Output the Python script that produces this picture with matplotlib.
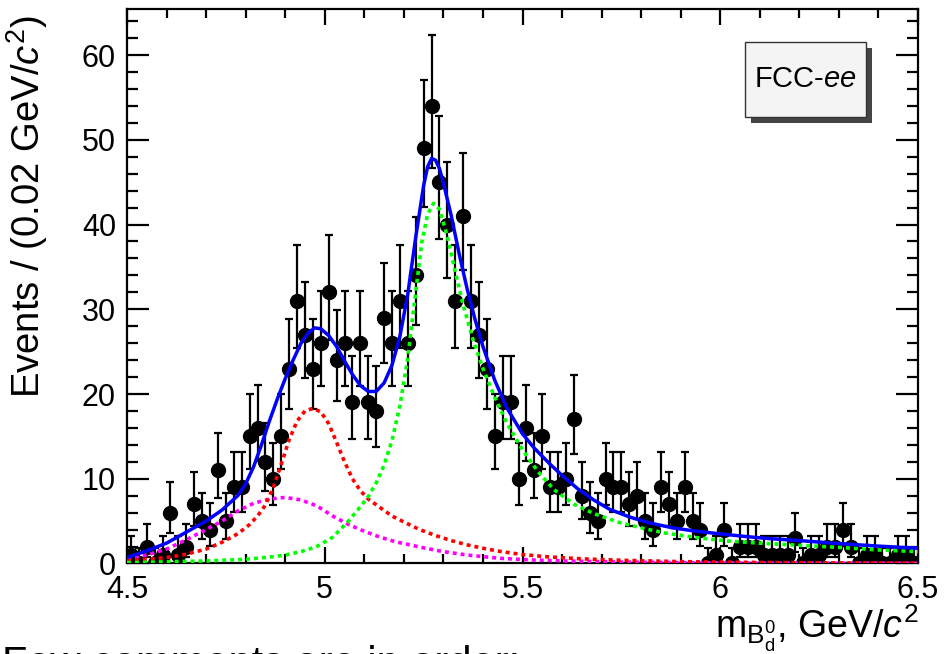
import numpy as np
import matplotlib
matplotlib.use("Agg")
import matplotlib.pyplot as plt
from matplotlib.patches import Rectangle
from matplotlib.ticker import MultipleLocator, FuncFormatter

# histogram: 100 bins of 0.02 GeV/c^2 between 4.5 and 6.5
bin_width = 0.02
bin_centers = np.round(np.arange(4.5 + bin_width / 2, 6.5, bin_width), 3)
counts = [1, 0, 2, 0, 1, 6, 1, 2, 7, 5,
          4, 11, 5, 9, 9, 15, 16, 12, 10, 15,
          23, 31, 27, 23, 26, 32, 24, 26, 19, 26,
          19, 18, 29, 26, 31, 26, 34, 49, 54, 45,
          40, 31, 41, 31, 27, 23, 15, 19, 19, 10,
          16, 11, 15, 9, 9, 10, 17, 8, 6, 5,
          10, 9, 9, 7, 8, 5, 4, 9, 7, 5,
          9, 5, 4, 0, 1, 4, 0, 2, 2, 2,
          1, 1, 1, 1, 3, 0, 1, 1, 2, 2,
          4, 2, 0, 1, 1, 0, 0, 1, 1, 0]

# fit components
total_x = [4.50, 4.55, 4.60, 4.65, 4.70, 4.74, 4.78, 4.80, 4.82, 4.84,
           4.86, 4.88, 4.90, 4.92, 4.94, 4.96, 4.975, 4.99, 5.01, 5.03,
           5.05, 5.07, 5.09, 5.11, 5.13, 5.15, 5.17, 5.19, 5.21, 5.23,
           5.25, 5.26, 5.27, 5.28, 5.29, 5.30, 5.32, 5.34, 5.36, 5.38,
           5.40, 5.43, 5.46, 5.50, 5.53, 5.57, 5.60, 5.64, 5.68, 5.72,
           5.77, 5.82, 5.88, 5.94, 6.00, 6.06, 6.12, 6.20, 6.30, 6.40,
           6.50]
total_y = [0.7, 1.5, 2.4, 3.7, 5.0, 6.3, 8.0, 9.4, 11.4, 14.0,
           16.8, 19.4, 21.8, 24.0, 26.0, 27.3, 27.8, 27.7, 26.9, 25.6,
           23.9, 22.3, 21.0, 20.3, 20.3, 21.3, 23.4, 26.8, 31.8, 38.5,
           44.6, 46.8, 47.8, 47.6, 46.6, 44.9, 41.0, 36.5, 32.4, 28.8,
           25.6, 21.6, 18.4, 15.3, 13.6, 11.7, 10.4, 8.8, 7.5, 6.4,
           5.5, 4.8, 4.2, 3.8, 3.5, 3.2, 2.95, 2.7, 2.35, 2.05,
           1.8]

signal_x = [4.50, 4.60, 4.70, 4.80, 4.86, 4.90, 4.94, 4.98, 5.02, 5.06,
            5.09, 5.11, 5.13, 5.15, 5.17, 5.19, 5.21, 5.23, 5.245, 5.26,
            5.275, 5.29, 5.31, 5.33, 5.35, 5.375, 5.40, 5.43, 5.46, 5.50,
            5.54, 5.58, 5.63, 5.68, 5.74, 5.80, 5.86, 5.94, 6.02, 6.10,
            6.20, 6.30, 6.40, 6.50]
signal_y = [0.1, 0.2, 0.3, 0.5, 0.75, 1.0, 1.4, 2.0, 3.1, 5.0,
            6.7, 7.9, 9.5, 11.6, 14.5, 18.6, 24.3, 32.0, 37.8, 41.2,
            42.5, 41.8, 38.6, 34.4, 30.5, 26.4, 23.0, 19.6, 16.6, 13.4,
            10.8, 8.7, 7.0, 5.9, 4.9, 4.2, 3.6, 3.05, 2.65, 2.4,
            2.15, 1.9, 1.6, 1.4]

peak2_x = [4.50, 4.55, 4.60, 4.65, 4.70, 4.74, 4.78, 4.81, 4.83, 4.85,
           4.87, 4.89, 4.91, 4.93, 4.95, 4.97, 4.99, 5.01, 5.03, 5.05,
           5.07, 5.09, 5.11, 5.14, 5.17, 5.20, 5.24, 5.28, 5.32, 5.36,
           5.40, 5.44, 5.50, 5.56, 5.65, 5.75, 5.90, 6.10, 6.30, 6.50]
peak2_y = [0.3, 0.5, 0.7, 1.1, 1.7, 2.5, 3.5, 4.6, 5.6, 6.9,
           9.0, 11.7, 14.6, 16.8, 18.0, 18.3, 17.9, 16.5, 14.3, 12.0,
           10.0, 8.6, 7.6, 6.6, 5.6, 4.9, 4.0, 3.3, 2.7, 2.2,
           1.8, 1.45, 1.05, 0.8, 0.55, 0.38, 0.22, 0.12, 0.07, 0.05]

bkg_x = [4.50, 4.55, 4.60, 4.65, 4.70, 4.74, 4.78, 4.82, 4.86, 4.90,
         4.94, 4.98, 5.02, 5.06, 5.10, 5.14, 5.18, 5.22, 5.26, 5.30,
         5.36, 5.44, 5.52, 5.62, 5.75, 5.90, 6.10, 6.50]
bkg_y = [0.6, 1.0, 1.7, 2.8, 4.0, 5.0, 6.2, 7.1, 7.6, 7.8,
         7.5, 6.8, 5.6, 4.6, 3.8, 3.1, 2.55, 2.15, 1.75, 1.4,
         1.0, 0.62, 0.42, 0.28, 0.17, 0.1, 0.05, 0.02]


def poisson_errors(n):
    # Gehrels approximation of the 68% Poisson interval
    n = np.asarray(n, dtype=float)
    up = (n + 1) * (1 - 1 / (9 * (n + 1)) + 1 / (3 * np.sqrt(n + 1))) ** 3
    lo = np.zeros_like(n)
    pos = n > 0
    lo[pos] = n[pos] * (1 - 1 / (9 * n[pos]) - 1 / (3 * np.sqrt(n[pos]))) ** 3
    return n - lo, up - n


def main():
    plt.rcParams["font.family"] = "Liberation Sans"
    plt.rcParams["mathtext.fontset"] = "custom"
    plt.rcParams["mathtext.rm"] = "Liberation Sans"
    plt.rcParams["mathtext.it"] = "Liberation Sans:italic"
    plt.rcParams["mathtext.bf"] = "Liberation Sans:bold"

    fig = plt.figure(figsize=(9.47, 6.54), dpi=100)
    ax = fig.add_axes([0.1341, 0.1384, 0.8353, 0.8474])

    err_lo, err_hi = poisson_errors(counts)
    ax.errorbar(bin_centers, counts, yerr=[err_lo, err_hi], fmt="o",
                color="black", ms=10, elinewidth=1.6, capsize=3,
                capthick=1.6, zorder=3)

    dash = (0, (1.1, 1.1))
    ax.plot(bkg_x, bkg_y, color="#ff00ff", lw=2.6, ls=dash, zorder=4)
    ax.plot(peak2_x, peak2_y, color="#ff0000", lw=2.6, ls=dash, zorder=4)
    ax.plot(signal_x, signal_y, color="#00ff00", lw=2.6, ls=dash, zorder=4)
    ax.plot(total_x, total_y, color="#0000ff", lw=2.5, zorder=5)

    ax.set_xlim(4.5, 6.5)
    ax.set_ylim(0, 65.4)

    ax.xaxis.set_major_locator(MultipleLocator(0.5))
    ax.xaxis.set_minor_locator(MultipleLocator(0.1))
    ax.yaxis.set_major_locator(MultipleLocator(10))
    ax.yaxis.set_minor_locator(MultipleLocator(2))
    ax.xaxis.set_major_formatter(FuncFormatter(lambda v, p: "%g" % v))

    ax.tick_params(which="both", direction="in", top=True, right=True,
                   width=1.6, labelsize=22)
    ax.tick_params(axis="x", which="major", length=11.5, pad=8)
    ax.tick_params(axis="x", which="minor", length=6.5)
    ax.tick_params(axis="y", which="major", length=16, pad=8)
    ax.tick_params(axis="y", which="minor", length=8)
    for s in ax.spines.values():
        s.set_linewidth(1.6)

    ax.set_ylabel(r"Events / (0.02 GeV/$c^{2}$)", fontsize=27.5, loc="top")
    ax.yaxis.set_label_coords(-0.097, 0.99)
    ax.set_xlabel(r"$\mathrm{m}_{\mathrm{B}^{0}_{\mathrm{d}}}$, GeV/$c^{2}$",
                  fontsize=27, loc="right")
    ax.xaxis.set_label_coords(1.0, -0.071)
    ax.xaxis.label.set_va("top")

    # FCC-ee label box with shadow
    bx0, by0, bw, bh = 0.781, 0.806, 0.153, 0.135
    ax.add_patch(Rectangle((bx0 + 0.0076, by0 - 0.0108), bw, bh,
                           transform=ax.transAxes, facecolor="#444444",
                           edgecolor="none", zorder=6))
    ax.add_patch(Rectangle((bx0, by0), bw, bh, transform=ax.transAxes,
                           facecolor="#f4f4f4", edgecolor="#333333",
                           lw=1.0, zorder=7))
    ax.text(bx0 + bw / 2, by0 + bh / 2, r"FCC-$ee$", transform=ax.transAxes,
            ha="center", va="center", fontsize=21, zorder=8)

    fig.text(0.002, -0.034, "Few comments are in order:", fontsize=30,
             va="baseline", ha="left")

    fig.savefig("out.png", dpi=100)
    plt.close(fig)


if __name__ == "__main__":
    main()
